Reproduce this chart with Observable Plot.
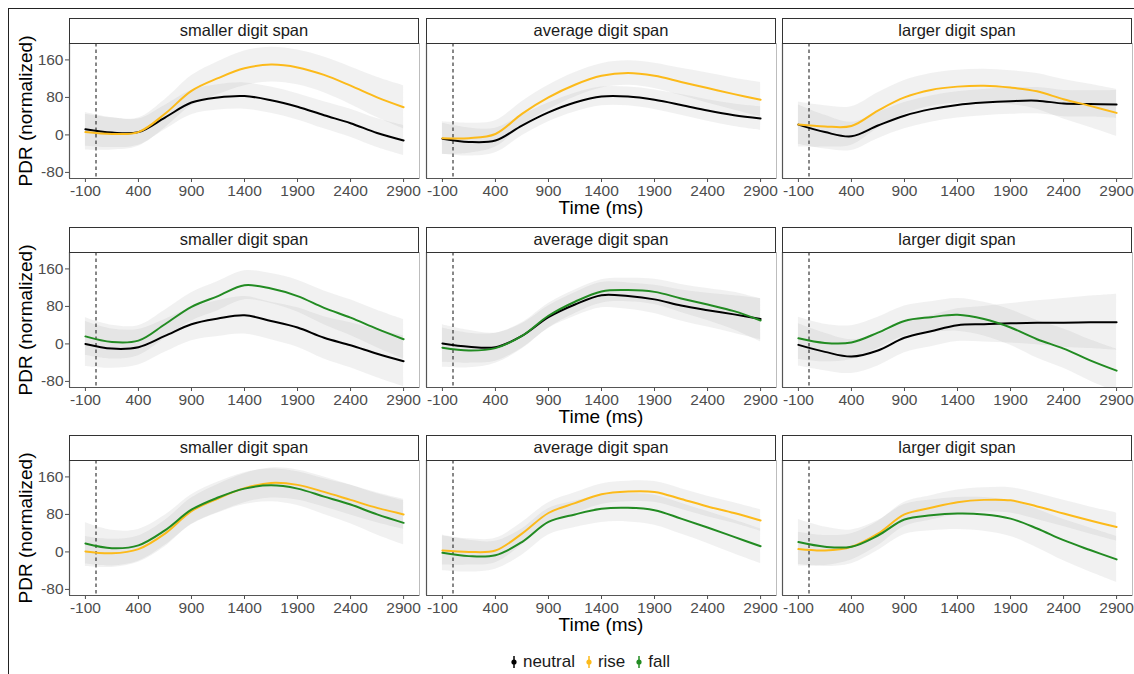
<!DOCTYPE html>
<html>
<head>
<meta charset="utf-8">
<script src="https://cdn.jsdelivr.net/npm/d3@7"></script>
<script src="https://cdn.jsdelivr.net/npm/@observablehq/plot@0.6"></script>
<style>
  html, body { margin: 0; padding: 0; background: #fff; }
  body { font-family: "Liberation Sans", Arial, Helvetica, sans-serif; }
  #root { position: relative; width: 1134px; height: 674px; overflow: hidden; background: #fff; }
  .abs { position: absolute; }
  .strip { position: absolute; box-sizing: border-box; border: 1.3px solid #333; background: #fff;
           text-align: center; font-size: 16.5px; color: #1a1a1a; line-height: 23px; }
  .xtitle { position: absolute; width: 300px; text-align: center; font-size: 19px; color: #000; line-height: 18px; }
  .ytitle { position: absolute; width: 200px; text-align: center; font-size: 19px; color: #000; line-height: 22px;
            transform: rotate(-90deg); transform-origin: center center; }
  .legend { position: absolute; left: 46px; width: 1088px; top: 650px; height: 24px; display: flex; justify-content: center;
            align-items: center; font-size: 17px; color: #1a1a1a; }
  .legend .item { display: flex; align-items: center; margin: 0 5px; }
  .legend svg { margin-right: 5px; }
  .panel svg { overflow: visible; }
  .panel svg text { font-size: 15.5px !important; font-family: "Liberation Sans", Arial, Helvetica, sans-serif !important; }
</style>
</head>
<body>
<div id="root"></div>
<script>
// ---------- data ----------
const times = [-100, 150, 400, 650, 900, 1150, 1400, 1650, 1900, 2150, 2400, 2650, 2900];
const xTicks = [-100, 400, 900, 1400, 1900, 2400, 2900];
const yTicks = [-80, 0, 80, 160];
const spans = ["smaller digit span", "average digit span", "larger digit span"];
const conditions = ["neutral", "rise", "fall"];
const lineColors = ["#000000", "#FCBA1A", "#228B22"];
const rowPairs = [["neutral", "rise"], ["neutral", "fall"], ["rise", "fall"]];
const xTitle = "Time (ms)";
const yTitle = "PDR (normalized)";

// row 1: neutral vs rise
const r1_smaller_neutral    = [12, 5, 6, 37, 69, 80, 83, 74, 60, 42, 25, 4, -12];
const r1_smaller_neutral_ci = [36, 32, 28, 26, 26, 27, 28, 28, 28, 29, 30, 31, 32];
const r1_smaller_rise       = [6, 2, 6, 45, 94, 121, 142, 150, 144, 128, 105, 80, 59];
const r1_smaller_rise_ci    = [38, 34, 30, 30, 32, 35, 37, 37, 37, 38, 40, 43, 46];
const r1_average_neutral    = [-8, -15, -12, 20, 48, 69, 82, 82, 75, 64, 52, 42, 35];
const r1_average_neutral_ci = [33, 30, 26, 22, 20, 20, 20, 20, 21, 22, 23, 24, 25];
const r1_average_rise       = [-7, -7, 2, 45, 80, 107, 126, 132, 126, 113, 100, 87, 75];
const r1_average_rise_ci    = [35, 32, 28, 26, 26, 26, 26, 26, 27, 29, 32, 34, 37];
const r1_larger_neutral     = [22, 6, -3, 20, 41, 55, 64, 69, 72, 73, 67, 66, 65];
const r1_larger_neutral_ci  = [42, 36, 30, 28, 28, 28, 28, 28, 28, 28, 28, 28, 30];
const r1_larger_rise        = [22, 18, 19, 52, 80, 96, 103, 105, 101, 93, 76, 62, 47];
const r1_larger_rise_ci     = [48, 44, 41, 38, 36, 35, 35, 35, 36, 38, 42, 46, 50];

// row 2: neutral vs fall
const r2_smaller_neutral    = [0, -10, -7, 17, 42, 54, 61, 49, 35, 13, -3, -21, -37];
const r2_smaller_neutral_ci = [48, 42, 38, 35, 35, 38, 40, 40, 42, 45, 48, 51, 54];
const r2_smaller_fall       = [16, 4, 7, 42, 79, 102, 125, 118, 102, 77, 56, 32, 10];
const r2_smaller_fall_ci    = [40, 36, 32, 30, 30, 31, 31, 32, 34, 36, 38, 40, 42];
const r2_average_neutral    = [1, -6, -7, 17, 57, 84, 104, 102, 95, 82, 72, 63, 53];
const r2_average_neutral_ci = [40, 35, 30, 26, 24, 25, 27, 28, 30, 33, 36, 40, 44];
const r2_average_fall       = [-8, -14, -9, 17, 60, 90, 112, 115, 111, 97, 84, 70, 50];
const r2_average_fall_ci    = [42, 37, 32, 28, 26, 25, 25, 25, 27, 30, 34, 40, 46];
const r2_larger_neutral     = [-2, -17, -27, -14, 13, 27, 40, 42, 44, 45, 45, 46, 46];
const r2_larger_neutral_ci  = [45, 40, 36, 33, 32, 33, 35, 38, 42, 47, 52, 56, 60];
const r2_larger_fall        = [12, 2, 3, 24, 49, 57, 62, 53, 35, 10, -10, -35, -57];
const r2_larger_fall_ci     = [45, 40, 36, 33, 32, 33, 35, 36, 38, 40, 42, 44, 46];

// row 3: rise vs fall
const r3_smaller_rise       = [1, -3, 6, 39, 87, 114, 136, 147, 143, 128, 111, 94, 80];
const r3_smaller_rise_ci    = [32, 30, 28, 28, 28, 30, 31, 32, 32, 32, 32, 32, 32];
const r3_smaller_fall       = [18, 8, 14, 46, 90, 116, 135, 142, 135, 118, 101, 80, 62];
const r3_smaller_fall_ci    = [44, 38, 34, 32, 32, 33, 34, 35, 36, 38, 41, 44, 47];
const r3_average_rise       = [3, 0, 3, 39, 83, 104, 123, 129, 128, 113, 97, 83, 67];
const r3_average_rise_ci    = [31, 28, 26, 24, 22, 22, 22, 22, 22, 22, 22, 22, 23];
const r3_average_fall       = [-2, -9, -7, 21, 64, 80, 92, 94, 89, 71, 52, 32, 12];
const r3_average_fall_ci    = [38, 34, 30, 28, 28, 28, 29, 30, 32, 33, 34, 36, 37];
const r3_larger_rise        = [6, 3, 11, 39, 80, 94, 106, 111, 110, 97, 82, 67, 53];
const r3_larger_rise_ci     = [36, 32, 28, 26, 26, 26, 26, 26, 27, 28, 28, 29, 30];
const r3_larger_fall        = [21, 11, 11, 35, 69, 78, 82, 80, 71, 50, 25, 4, -16];
const r3_larger_fall_ci     = [48, 42, 36, 32, 32, 33, 34, 36, 38, 41, 44, 47, 49];

const series = {
  r1_smaller_neutral, r1_smaller_neutral_ci, r1_smaller_rise, r1_smaller_rise_ci,
  r1_average_neutral, r1_average_neutral_ci, r1_average_rise, r1_average_rise_ci,
  r1_larger_neutral, r1_larger_neutral_ci, r1_larger_rise, r1_larger_rise_ci,
  r2_smaller_neutral, r2_smaller_neutral_ci, r2_smaller_fall, r2_smaller_fall_ci,
  r2_average_neutral, r2_average_neutral_ci, r2_average_fall, r2_average_fall_ci,
  r2_larger_neutral, r2_larger_neutral_ci, r2_larger_fall, r2_larger_fall_ci,
  r3_smaller_rise, r3_smaller_rise_ci, r3_smaller_fall, r3_smaller_fall_ci,
  r3_average_rise, r3_average_rise_ci, r3_average_fall, r3_average_fall_ci,
  r3_larger_rise, r3_larger_rise_ci, r3_larger_fall, r3_larger_fall_ci
};
const spanKeys = ["smaller", "average", "larger"];

// ---------- layout ----------
const root = document.getElementById("root");
const colLeft = [69, 426, 782];
const rowTop = [43, 252, 460];
const panelW = 350, panelH = 135;
const xDomain = [-250, 3050];
const yDomain = [-93, 195];
const fontFamily = '"Liberation Sans", Arial, Helvetica, sans-serif';

function addDiv(cls, css, text) {
  const d = document.createElement("div");
  d.className = cls;
  Object.assign(d.style, css);
  if (text != null) d.textContent = text;
  root.appendChild(d);
  return d;
}

// outer border (top + left)
addDiv("abs", {left: "8px", top: "8px", width: "1126px", height: "1.3px", background: "#222"});
addDiv("abs", {left: "8px", top: "8px", width: "1.3px", height: "666px", background: "#222"});

for (let r = 0; r < 3; r++) {
  const [a, b] = rowPairs[r];
  for (let c = 0; c < 3; c++) {
    const data = [];
    for (const cond of [a, b]) {
      const m = series[`r${r + 1}_${spanKeys[c]}_${cond}`];
      const ci = series[`r${r + 1}_${spanKeys[c]}_${cond}_ci`];
      times.forEach((t, i) => data.push({cond, t, m: m[i], lo: m[i] - ci[i], hi: m[i] + ci[i]}));
    }
    const ml = c === 0 ? 60 : 4, mr = 2, mt = 1, mb = 30;
    const chart = Plot.plot({
      width: ml + panelW + mr,
      height: mt + panelH + mb,
      marginLeft: ml, marginRight: mr, marginTop: mt, marginBottom: mb,
      style: {fontFamily, fontSize: "15.5px", color: "#4d4d4d", background: "transparent", overflow: "visible"},
      x: {domain: xDomain, ticks: xTicks, tickFormat: d => String(d), tickSize: 4, tickPadding: 2, label: null},
      y: {domain: yDomain, ticks: yTicks, tickFormat: d => String(d), tickSize: 4, tickPadding: 2, label: null,
          axis: c === 0 ? "left" : null},
      color: {domain: conditions, range: lineColors},
      marks: [
        Plot.areaY(data, {x: "t", y1: "lo", y2: "hi", z: "cond", fill: "#9a9a9a", fillOpacity: 0.14,
                          curve: "catmull-rom", clip: true}),
        Plot.ruleX([0], {stroke: "#111", strokeDasharray: "3.5,3", strokeWidth: 1}),
        Plot.lineY(data, {x: "t", y: "m", z: "cond", stroke: "cond", strokeWidth: 2, curve: "catmull-rom", clip: true}),
        Plot.frame({stroke: "#bdbdbd"}),
        Plot.ruleX([xDomain[0]], {stroke: "#555", strokeWidth: 1.2}),
        Plot.ruleY([yDomain[0]], {stroke: "#555", strokeWidth: 1.2})
      ]
    });
    const holder = addDiv("abs panel", {left: (colLeft[c] - ml) + "px", top: (rowTop[r] - mt) + "px"});
    holder.appendChild(chart);
    // strip
    addDiv("strip", {left: colLeft[c] + "px", top: (rowTop[r] - 25) + "px", width: panelW + "px", height: "26px"}, spans[c]);
  }
  // axis titles
  addDiv("xtitle", {left: (colLeft[1] + panelW / 2 - 150) + "px", top: (rowTop[r] + 156) + "px"}, xTitle);
  addDiv("ytitle", {left: (26 - 100) + "px", top: (rowTop[r] + panelH / 2 - 11) + "px"}, yTitle);
}

// legend
const legend = addDiv("legend", {});
conditions.forEach((cond, i) => {
  const item = document.createElement("div");
  item.className = "item";
  const ns = "http://www.w3.org/2000/svg";
  const svg = document.createElementNS(ns, "svg");
  svg.setAttribute("width", "8"); svg.setAttribute("height", "16");
  const ln = document.createElementNS(ns, "line");
  ln.setAttribute("x1", "4"); ln.setAttribute("x2", "4"); ln.setAttribute("y1", "2"); ln.setAttribute("y2", "14");
  ln.setAttribute("stroke", lineColors[i]); ln.setAttribute("stroke-width", "1.5");
  const dot = document.createElementNS(ns, "circle");
  dot.setAttribute("cx", "4"); dot.setAttribute("cy", "8"); dot.setAttribute("r", "2.6");
  dot.setAttribute("fill", lineColors[i]);
  svg.appendChild(ln); svg.appendChild(dot);
  const label = document.createElement("span");
  label.textContent = cond;
  item.appendChild(svg); item.appendChild(label);
  legend.appendChild(item);
});
</script>
</body>
</html>
